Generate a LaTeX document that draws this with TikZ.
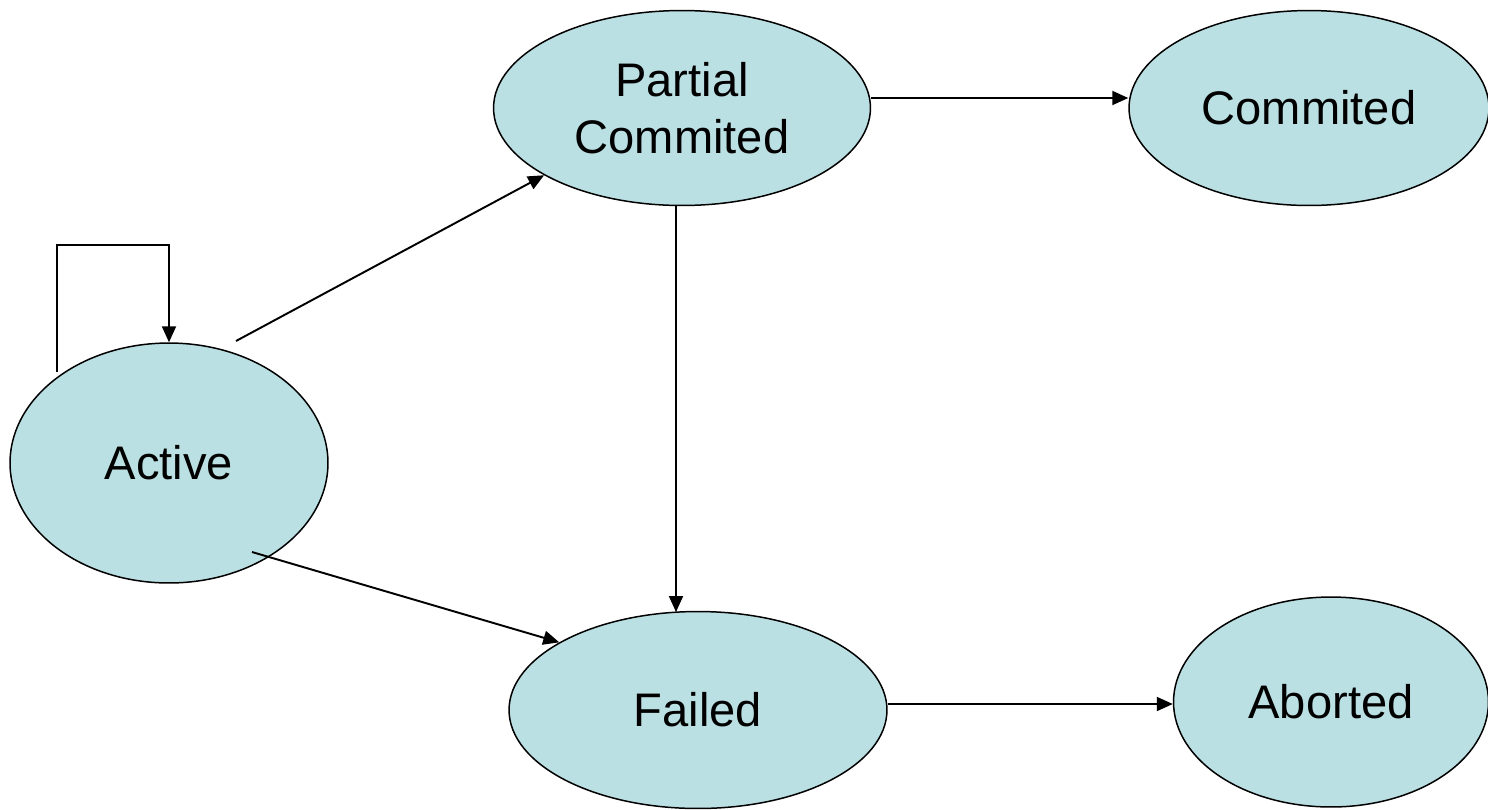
\documentclass[tikz,border=0pt]{standalone}
\usepackage{fontspec}
\setmainfont{Liberation Sans}
\usetikzlibrary{arrows.meta,shapes.geometric}
\definecolor{statefill}{RGB}{187,224,227}
\tikzset{
  state/.style={ellipse, draw=black, line width=0.85pt, fill=statefill, inner sep=0pt,
    align=center, font=\fontsize{26.8}{32.4}\selectfont},
  arr/.style={line width=1.1pt, -{Triangle[length=0.32cm,width=0.28cm]}}
}
\begin{document}
\begin{tikzpicture}[x=0.02cm,y=-0.02cm]
  \useasboundingbox (0,0) rectangle (1488,809);
  % states
  \node[state, minimum width=6.36cm, minimum height=4.8cm] (act) at (169,463) {Active};
  \node[state, minimum width=7.54cm, minimum height=3.9cm] (pc) at (682,108) {Partial\\Commited};
  \node[state, minimum width=7.2cm, minimum height=3.9cm] (com) at (1309,108) {Commited};
  \node[state, minimum width=7.56cm, minimum height=3.94cm] (fail) at (698,710) {Failed};
  \node[state, minimum width=6.3cm, minimum height=4.2cm] (abo) at (1331,702) {Aborted};
  % free ends of the connectors
  \coordinate (loopstart) at (57,372);
  \coordinate (loopa) at (57,245);
  \coordinate (loopb) at (169,245);
  \coordinate (toPC) at (236,341);
  \coordinate (toF) at (252,552);
  \coordinate (pcS) at (676,205);
  \coordinate (fN) at (676,612);
  % transitions
  \draw[arr] (loopstart) -- (loopa) -- (loopb) -- (act.north);
  \draw[arr] (toPC) -- (pc.206);
  \draw[arr] (toF) -- (fail.154);
  \draw[arr] (pc.east |- 0,98) -- (com.west |- 0,98);
  \draw[arr] (pcS) -- (fN);
  \draw[arr] (fail.east |- 0,704) -- (abo.west |- 0,704);
\end{tikzpicture}
\end{document}
